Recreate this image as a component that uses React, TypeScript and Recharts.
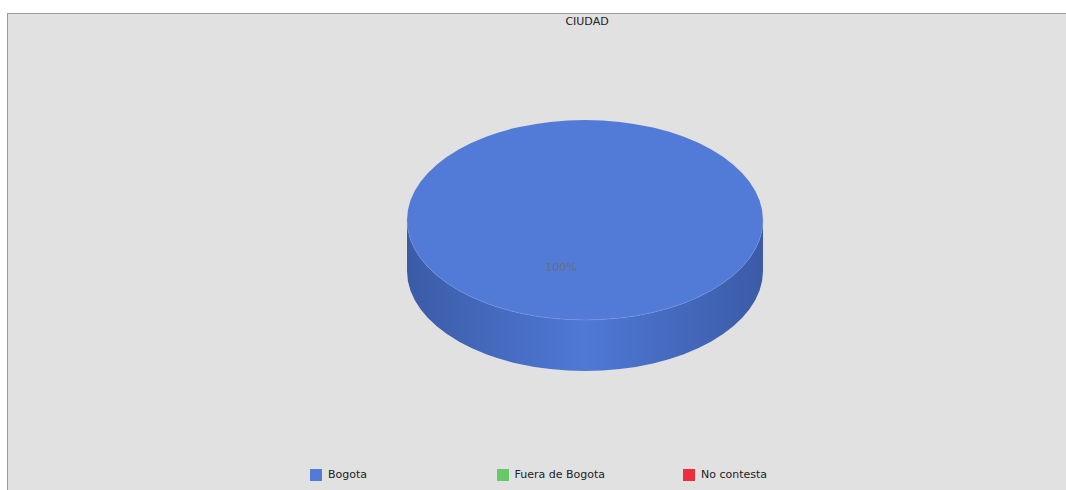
import { PieChart, Pie, Cell, Legend } from 'recharts';

// data
const categories = ['Bogota', 'Fuera de Bogota', 'No contesta'];
const values = [100, 0, 0];
const colors = ['#527bd8', '#66c866', '#ee2d3e'];
const sideDark = ['#3b5ba6', '#3f8c3f', '#a81e2b'];

const chartData = categories.map((name, i) => ({ name, value: values[i] }));

const TILT = 0.562; // ry / rx of the top face
const DEPTH = 51; // height of the disc wall
const RAD = Math.PI / 180;
const FONT = '"DejaVu Sans", Verdana, sans-serif';

// 3D elliptical slice drawn from the sector geometry recharts computes
const Slice3D = (props: any) => {
  const { cx, cy, outerRadius, startAngle, endAngle, index } = props;
  const s = Math.min(startAngle, endAngle);
  const e = Math.max(startAngle, endAngle);
  if (e - s <= 0) return null;
  const rx = outerRadius;
  const ry = outerRadius * TILT;
  const pt = (a: number, dy = 0) => [cx + rx * Math.cos(a * RAD), cy - ry * Math.sin(a * RAD) + dy];
  const full = e - s >= 359.999;
  const top = colors[index];
  const gid = `side-${index}`;

  // visible front wall: angles 180..360 (mod 360)
  const walls: string[] = [];
  for (let k = -1; k <= 2; k++) {
    const a0 = Math.max(s, 180 + 360 * k);
    const a1 = Math.min(e, 360 + 360 * k);
    if (a1 <= a0) continue;
    const [x0, y0] = pt(a0);
    const [x1, y1] = pt(a1);
    walls.push(
      `M${x0},${y0} L${x0},${y0 + DEPTH} A${rx},${ry} 0 0 0 ${x1},${y1 + DEPTH} L${x1},${y1} A${rx},${ry} 0 0 1 ${x0},${y0} Z`
    );
  }

  let topPath = '';
  if (!full) {
    const [xs, ys] = pt(s);
    const [xe, ye] = pt(e);
    topPath = `M${cx},${cy} L${xs},${ys} A${rx},${ry} 0 ${e - s > 180 ? 1 : 0} 0 ${xe},${ye} Z`;
  }

  return (
    <g>
      <defs>
        <linearGradient id={gid} x1={cx - rx} x2={cx + rx} y1={0} y2={0} gradientUnits="userSpaceOnUse">
          <stop offset="0%" stopColor={sideDark[index]} />
          <stop offset="50%" stopColor="#4f79d6" />
          <stop offset="100%" stopColor={sideDark[index]} />
        </linearGradient>
      </defs>
      {walls.map((d, i) => (
        <path key={i} d={d} fill={`url(#${gid})`} stroke="none" />
      ))}
      {full ? (
        <ellipse cx={cx} cy={cy} rx={rx} ry={ry} fill={top} />
      ) : (
        <path d={topPath} fill={top} />
      )}
      {full && (
        <path
          d={`M${cx - rx},${cy} A${rx},${ry} 0 0 0 ${cx + rx},${cy}`}
          fill="none"
          stroke="#7b9be3"
          strokeWidth={0.8}
          strokeOpacity={0.55}
        />
      )}
    </g>
  );
};

const renderLabel = (props: any) => {
  const { cx, cy, midAngle, outerRadius, percent } = props;
  if (!percent) return null;
  const r = outerRadius * 0.49;
  const x = cx + r * Math.cos(midAngle * RAD);
  const y = cy - r * TILT * Math.sin(midAngle * RAD);
  return (
    <text x={x} y={y} textAnchor="middle" dominantBaseline="central" fill="#6a6c80" fontSize={11} fontFamily={FONT}>
      {`${Math.round(percent * 100)}%`}
    </text>
  );
};

const renderLegend = () => (
  <div style={{ position: 'relative', width: 1058, height: 14, fontFamily: FONT, fontSize: 11, color: '#222' }}>
    {categories.map((name, i) => (
      <div key={name} style={{ position: 'absolute', left: 302 + i * 186.5, top: 0, display: 'flex', alignItems: 'center' }}>
        <span style={{ width: 12, height: 12, background: colors[i], display: 'inline-block' }} />
        <span style={{ marginLeft: 6, lineHeight: '12px' }}>{name}</span>
      </div>
    ))}
  </div>
);

export default function App() {
  return (
    <div style={{ position: 'absolute', left: 0, top: 0, width: 1066, height: 490, background: '#fff', overflow: 'hidden' }}>
      <div
        style={{
          position: 'absolute',
          left: 7,
          top: 13,
          width: 1058,
          height: 476,
          background: '#e1e1e1',
          borderLeft: '1px solid #9b9b9b',
          borderTop: '1px solid #9b9b9b',
        }}
      >
        <div
          style={{
            position: 'absolute',
            left: 479,
            top: 1,
            width: 200,
            textAlign: 'center',
            fontFamily: FONT,
            fontSize: 11,
            lineHeight: '14px',
            color: '#222',
          }}
        >
          CIUDAD
        </div>
        <PieChart width={1058} height={476} margin={{ top: 0, right: 0, bottom: 0, left: 0 }}>
          <Pie
            data={chartData}
            dataKey="value"
            nameKey="name"
            cx={577}
            cy={206}
            outerRadius={178}
            startAngle={74}
            endAngle={434}
            shape={Slice3D}
            activeShape={Slice3D}
            label={renderLabel}
            labelLine={false}
            stroke="none"
            isAnimationActive={false}
          >
            {chartData.map((d, i) => (
              <Cell key={d.name} fill={colors[i]} />
            ))}
          </Pie>
          <Legend
            content={renderLegend}
            wrapperStyle={{ position: 'absolute', left: 0, top: 455, width: 1058, height: 14 }}
          />
        </PieChart>
      </div>
    </div>
  );
}
